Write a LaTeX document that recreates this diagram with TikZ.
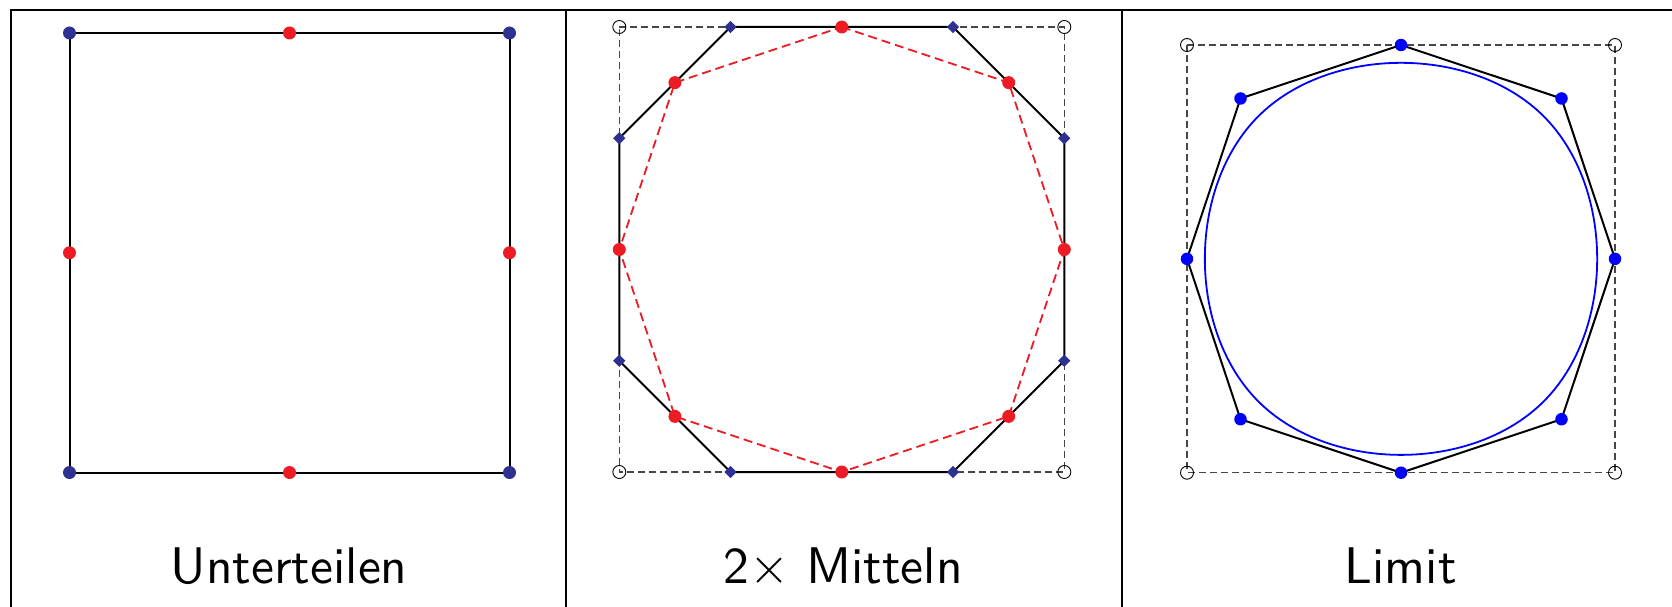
\documentclass[tikz,border=0pt]{standalone}
\usepackage{fontspec}
\newfontfamily\labfont{lmsans10-regular.otf}
\usetikzlibrary{shapes.geometric}
\definecolor{dkblue}{RGB}{46,49,146}
\definecolor{myred}{RGB}{237,28,36}
\definecolor{myblue}{RGB}{0,0,255}
\definecolor{dashgray}{RGB}{70,70,70}
\begin{document}
\begin{tikzpicture}[x=1pt,y=-1pt,
  framel/.style={line width=2.4pt,black},
  poly/.style={line width=2pt,black,line join=round},
  bdot/.style={circle,fill=dkblue,inner sep=0pt,minimum size=13pt},
  rdot/.style={circle,fill=myred,inner sep=0pt,minimum size=13pt},
  ldot/.style={circle,fill=myblue,inner sep=0pt,minimum size=12.5pt},
  dmark/.style={diamond,fill=dkblue,inner sep=0pt,minimum size=12.5pt},
  omark/.style={circle,draw=black,line width=0.9pt,inner sep=0pt,minimum size=13pt},
  guide/.style={dashgray,line width=1.2pt,dash pattern=on 7pt off 4pt},
  rguide/.style={myred,line width=1.8pt,dash pattern=on 9pt off 5pt},
  curve/.style={myblue,line width=1.8pt},
  lab/.style={font=\labfont\fontsize{51.5}{62}\selectfont,anchor=base,inner sep=0pt},
]
\useasboundingbox (0,0) rectangle (1672,607);
% frame
\coordinate (ftl) at (11,10);
\coordinate (ftr) at (1680,10);
\coordinate (fbl) at (11,615);
\coordinate (d1t) at (566,10);
\coordinate (d1b) at (566,615);
\coordinate (d2t) at (1122,10);
\coordinate (d2b) at (1122,615);
\draw[framel] (fbl) -- (ftl) -- (ftr);
\draw[framel] (d1t) -- (d1b);
\draw[framel] (d2t) -- (d2b);

% ---------- panel 1 ----------
\begin{scope}[xshift=69.5pt,yshift=-33pt,x=440pt,y=-439.5pt]
\coordinate (a1) at (0,0);
\coordinate (a2) at (1,0);
\coordinate (a3) at (1,1);
\coordinate (a4) at (0,1);
\coordinate (m1) at (0.5,0);
\coordinate (m2) at (1,0.5);
\coordinate (m3) at (0.5,1);
\coordinate (m4) at (0,0.5);
\draw[poly] (a1) -- (a2) -- (a3) -- (a4) -- cycle;
\foreach \i in {1,...,4} {\node[bdot] (A\i) at (a\i) {};}
\foreach \i in {1,...,4} {\node[rdot] (M\i) at (m\i) {};}
\end{scope}

% ---------- panel 2 ----------
\begin{scope}[xshift=619.3pt,yshift=-27pt,x=445pt,y=-445pt]
\coordinate (b1) at (0,0);
\coordinate (b2) at (1,0);
\coordinate (b3) at (1,1);
\coordinate (b4) at (0,1);
\coordinate (q1) at (0.25,0);
\coordinate (q2) at (0.75,0);
\coordinate (q3) at (1,0.25);
\coordinate (q4) at (1,0.75);
\coordinate (q5) at (0.75,1);
\coordinate (q6) at (0.25,1);
\coordinate (q7) at (0,0.75);
\coordinate (q8) at (0,0.25);
\coordinate (r1) at (0.5,0);
\coordinate (r2) at (0.875,0.125);
\coordinate (r3) at (1,0.5);
\coordinate (r4) at (0.875,0.875);
\coordinate (r5) at (0.5,1);
\coordinate (r6) at (0.125,0.875);
\coordinate (r7) at (0,0.5);
\coordinate (r8) at (0.125,0.125);
\draw[guide] (b1) -- (b2) -- (b3) -- (b4) -- cycle;
\draw[poly] (q1) -- (q2) -- (q3) -- (q4) -- (q5) -- (q6) -- (q7) -- (q8) -- cycle;
\draw[rguide] (r1) -- (r2) -- (r3) -- (r4) -- (r5) -- (r6) -- (r7) -- (r8) -- cycle;
\foreach \i in {1,...,8} {\node[dmark] (Q\i) at (q\i) {};}
\foreach \i in {1,...,8} {\node[rdot] (R\i) at (r\i) {};}
\foreach \i in {1,...,4} {\node[omark] (B\i) at (b\i) {};}
\end{scope}

% ---------- panel 3 ----------
\begin{scope}[xshift=1187pt,yshift=-45pt,x=428pt,y=-427.7pt]
\coordinate (c1) at (0,0);
\coordinate (c2) at (1,0);
\coordinate (c3) at (1,1);
\coordinate (c4) at (0,1);
\coordinate (s1) at (0.5,0);
\coordinate (s2) at (0.875,0.125);
\coordinate (s3) at (1,0.5);
\coordinate (s4) at (0.875,0.875);
\coordinate (s5) at (0.5,1);
\coordinate (s6) at (0.125,0.875);
\coordinate (s7) at (0,0.5);
\coordinate (s8) at (0.125,0.125);
\draw[guide] (c1) -- (c2) -- (c3) -- (c4) -- cycle;
\draw[poly] (s1) -- (s2) -- (s3) -- (s4) -- (s5) -- (s6) -- (s7) -- (s8) -- cycle;
\draw[curve] (1/6,1/6) .. controls (1/3,0) and (2/3,0) .. (5/6,1/6)
  .. controls (1,1/3) and (1,2/3) .. (5/6,5/6)
  .. controls (2/3,1) and (1/3,1) .. (1/6,5/6)
  .. controls (0,2/3) and (0,1/3) .. cycle;
\foreach \i in {1,...,8} {\node[ldot] (S\i) at (s\i) {};}
\foreach \i in {1,...,4} {\node[omark] (C\i) at (c\i) {};}
\end{scope}

% labels
\node[lab] (l1) at (289.2,583.3) {Unterteilen};
\node[lab] (l2) at (843,583.3) {2× Mitteln};
\node[lab] (l3) at (1400.7,583.3) {Limit};
\end{tikzpicture}
\end{document}
